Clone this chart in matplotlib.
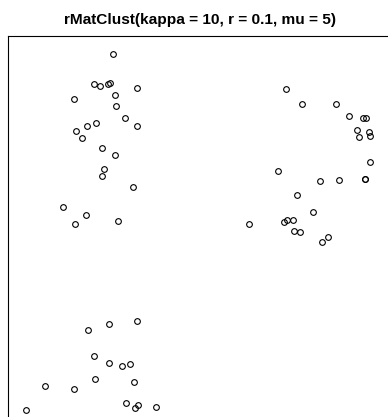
import numpy as np
import matplotlib.pyplot as plt

# ===== Data (unit-square coordinates) =====
TITLE = "rMatClust(kappa = 10, r = 0.1, mu = 5)"

cluster_a_x = [0.263, 0.216, 0.229, 0.251, 0.255, 0.323, 0.165, 0.267, 0.271, 0.293,
               0.221, 0.198, 0.323, 0.170, 0.184, 0.236, 0.267, 0.241, 0.236, 0.313,
               0.137, 0.196, 0.168, 0.276]
cluster_a_y = [0.955, 0.880, 0.875, 0.880, 0.883, 0.871, 0.843, 0.852, 0.824, 0.794,
               0.782, 0.776, 0.775, 0.763, 0.744, 0.720, 0.703, 0.668, 0.649, 0.622,
               0.573, 0.552, 0.529, 0.538]

cluster_b_x = [0.694, 0.734, 0.821, 0.853, 0.887, 0.895, 0.872, 0.903, 0.877, 0.905,
               0.905, 0.892, 0.893, 0.676, 0.781, 0.828, 0.723, 0.762, 0.602, 0.691,
               0.697, 0.713, 0.715, 0.731, 0.799, 0.786]
cluster_b_y = [0.868, 0.829, 0.830, 0.799, 0.794, 0.794, 0.765, 0.759, 0.748, 0.750,
               0.685, 0.643, 0.642, 0.663, 0.637, 0.640, 0.603, 0.561, 0.529, 0.534,
               0.539, 0.539, 0.512, 0.511, 0.498, 0.486]

cluster_c_x = [0.322, 0.253, 0.199, 0.215, 0.253, 0.285, 0.304, 0.218, 0.316, 0.092,
               0.164, 0.294, 0.326, 0.317, 0.370, 0.046]
cluster_c_y = [0.288, 0.279, 0.264, 0.201, 0.182, 0.176, 0.181, 0.142, 0.134, 0.126,
               0.117, 0.083, 0.078, 0.069, 0.072, 0.065]
# ================================================================

W, H, DPI = 388, 417, 100
fig = plt.figure(figsize=(W / DPI, H / DPI), dpi=DPI)

# window square: left edge at px 8, top at px 36, side 400 px (runs off the image)
side = 400
ax = fig.add_axes([8 / W, (H - 36 - side) / H, side / W, side / H])
ax.set_xlim(0, 1)
ax.set_ylim(0, 1)
ax.set_xticks([])
ax.set_yticks([])
for s in ax.spines.values():
    s.set_linewidth(0.8)
    s.set_color("black")

xs = np.concatenate([cluster_a_x, cluster_b_x, cluster_c_x])
ys = np.concatenate([cluster_a_y, cluster_b_y, cluster_c_y])
ax.plot(xs, ys, linestyle="none", marker="o", markersize=4.1,
        markerfacecolor="none", markeredgecolor="black", markeredgewidth=0.8,
        clip_on=False)

fig.text(200 / W, 1 - 20 / H, TITLE, ha="center", va="center",
         fontsize=11.1, fontweight="bold", family=["Liberation Sans", "DejaVu Sans"])

fig.savefig("out.png", dpi=DPI)
